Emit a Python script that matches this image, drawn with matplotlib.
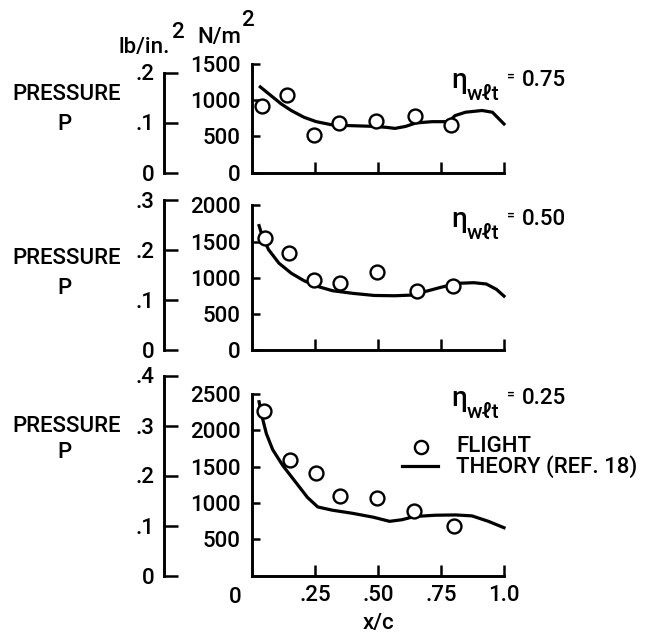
import matplotlib
matplotlib.use('Agg')
import matplotlib.pyplot as plt
from matplotlib.lines import Line2D

plt.rcParams['font.family'] = ['Roboto', 'DejaVu Sans']
plt.rcParams['font.weight'] = 'medium'
plt.rcParams['mathtext.fontset'] = 'dejavusans'

# ---------------- data ----------------
eta_values = ['0.75', '0.50', '0.25']

top_flight_x = [0.038, 0.14, 0.247, 0.345, 0.493, 0.645, 0.79]
top_flight_p = [915, 1063, 515, 683, 715, 785, 655]
top_theory_x = [0.033, 0.074, 0.115, 0.156, 0.206, 0.255, 0.32, 0.40, 0.485, 0.535,
                0.567, 0.61, 0.65, 0.715, 0.78, 0.806, 0.847, 0.913, 0.954, 1.0]
top_theory_p = [1180, 1064, 948, 854, 762, 701, 655, 645, 636, 622,
                608, 636, 683, 701, 701, 785, 831, 855, 831, 669]

mid_flight_x = [0.051, 0.148, 0.247, 0.35, 0.498, 0.653, 0.798]
mid_flight_p = [1551, 1343, 972, 926, 1088, 824, 894]
mid_theory_x = [0.028, 0.041, 0.066, 0.107, 0.156, 0.206, 0.255, 0.32, 0.403, 0.485,
                0.567, 0.633, 0.699, 0.748, 0.814, 0.88, 0.93, 0.97, 1.0]
mid_theory_p = [1722, 1574, 1389, 1204, 1065, 963, 889, 824, 787, 759,
                755, 764, 824, 870, 926, 935, 917, 843, 750]

bot_flight_x = [0.049, 0.152, 0.253, 0.351, 0.498, 0.644, 0.803]
bot_flight_p = [2264, 1596, 1420, 1099, 1068, 892, 681]
bot_theory_x = [0.028, 0.041, 0.057, 0.082, 0.122, 0.171, 0.22, 0.261, 0.318, 0.40,
                0.481, 0.546, 0.595, 0.644, 0.726, 0.808, 0.873, 0.938, 1.0]
bot_theory_p = [2396, 2176, 1956, 1736, 1517, 1297, 1077, 945, 901, 857,
                804, 747, 769, 813, 831, 835, 822, 747, 659]

n_top_limits = [1500, 2000, 2500]
lb_top_limits = [0.2, 0.3, 0.4]
n_ticks = [[0, 500, 1000, 1500], [0, 500, 1000, 1500, 2000], [500, 1000, 1500, 2000, 2500]]
n_tick_labels = [['0', '500', '1000', '1500'], ['0', '500', '1000', '1500', '2000'],
                 ['500', '1000', '1500', '2000', '2500']]
lb_ticks = [[0, 0.1, 0.2], [0, 0.1, 0.2, 0.3], [0, 0.1, 0.2, 0.3, 0.4]]
lb_tick_labels = [['0', '.1', '.2'], ['0', '.1', '.2', '.3'], ['0', '.1', '.2', '.3', '.4']]
x_ticks = [0.25, 0.5, 0.75, 1.0]
x_tick_labels = ['.25', '.50', '.75', '1.0']

flights = [(top_flight_x, top_flight_p), (mid_flight_x, mid_flight_p), (bot_flight_x, bot_flight_p)]
theories = [(top_theory_x, top_theory_p), (mid_theory_x, mid_theory_p), (bot_theory_x, bot_theory_p)]

# ---------------- layout ----------------
W, H = 649, 638
FS = 16
LB_TO_N = 6894.76
PX_PER_N = 50 / 689.476

fig = plt.figure(figsize=(W / 100, H / 100), dpi=100)


def T(x, y, s, **kw):
    kw.setdefault('fontsize', FS)
    return fig.text(x / W, 1 - y / H, s, **kw)


zero_px = [172.5, 350.5, 575.5]
press_y = [(94, 124), (259, 288), (427, 452)]
eta_y = [80, 219, 398]
LW = 2.1

for i in range(3):
    z = zero_px[i]
    h = n_top_limits[i] * PX_PER_N
    ax = fig.add_axes([252 / W, 1 - z / H, 252 / W, h / H])
    ax.set_facecolor('none')
    ax.set_xlim(0, 1)
    ax.set_ylim(0, n_top_limits[i])
    for s in ['top', 'right']:
        ax.spines[s].set_visible(False)
    for s in ['left', 'bottom']:
        ax.spines[s].set_linewidth(LW)
    ax.set_yticks(n_ticks[i], n_tick_labels[i])
    ax.tick_params(axis='y', direction='in', length=6, width=1.8, pad=8, labelsize=FS)
    ax.set_xticks(x_ticks, x_tick_labels if i == 2 else [''] * 4)
    ax.tick_params(axis='x', direction='in', length=8, width=1.8, pad=7, labelsize=FS)

    tx, tp = theories[i]
    ax.plot(tx, tp, color='black', lw=2.3, clip_on=False)
    fx_, fp_ = flights[i]
    ax.plot(fx_, fp_, linestyle='none', marker='o', ms=10, mfc='white', mec='black',
            mew=1.7, clip_on=False, zorder=3)

    if i == 2:
        ax.annotate('0', xy=(0, 0), xycoords='data', xytext=(-17, -22),
                    textcoords='offset pixels', ha='center', va='center', fontsize=FS)

    # lb/in^2 axis
    hl = lb_top_limits[i] * LB_TO_N * PX_PER_N
    axl = fig.add_axes([164 / W, 1 - z / H, 0.001, hl / H])
    axl.set_facecolor('none')
    axl.set_ylim(0, lb_top_limits[i])
    axl.set_xticks([])
    for s in ['top', 'right', 'bottom']:
        axl.spines[s].set_visible(False)
    axl.spines['left'].set_linewidth(LW)
    axl.set_yticks(lb_ticks[i], lb_tick_labels[i])
    axl.tick_params(axis='y', direction='in', length=10, width=1.8, pad=7, labelsize=FS)

    # labels
    T(67, press_y[i][0], 'PRESSURE', ha='center', va='center')
    T(64, press_y[i][1], 'P', ha='center', va='center')

    a = eta_y[i]
    T(451, a + 0.5, 'η', fontsize=20, ha='left', va='center')
    T(467, a + 14, 'wℓt', fontsize=15, ha='left', va='center')
    T(507, a - 3, '=', fontsize=10, ha='left', va='center')
    T(522, a, eta_values[i], ha='left', va='center')

# header units
T(118, 47, 'lb/in.', ha='left', va='center')
T(171, 33, '2', ha='left', va='center')
T(197, 38, 'N/m', ha='left', va='center')
T(241, 21, '2', ha='left', va='center')

# x label
T(378, 624, 'x/c', ha='center', va='center')

# legend
fig.add_artist(Line2D([421 / W], [1 - 447 / H], linestyle='none', marker='o', ms=9.5,
                      mfc='white', mec='black', mew=1.7))
T(456, 447, 'FLIGHT', ha='left', va='center')
fig.add_artist(Line2D([402 / W, 438 / W], [1 - 466 / H] * 2, color='black', lw=2.3))
T(456, 467, 'THEORY (REF. 18)', ha='left', va='center')

fig.savefig('out.png', dpi=100, facecolor='white')
